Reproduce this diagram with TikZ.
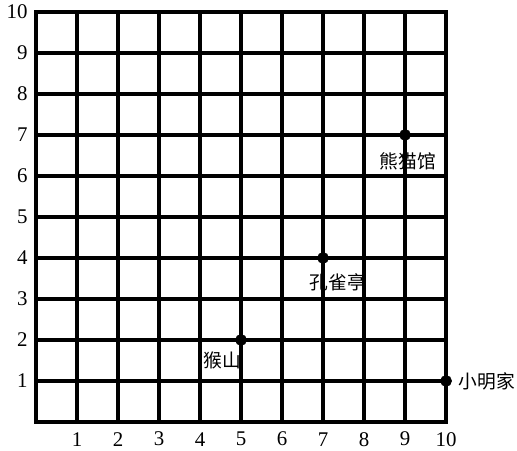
\documentclass[tikz,border=0pt]{standalone}
\usepackage{fontspec}
\setmainfont{Liberation Serif}
\newfontfamily\cjk{Noto Sans CJK SC}
\usetikzlibrary{positioning}
\newcommand{\placeptradius}{0.27cm}
\tikzset{placept/.style={circle, draw, fill=black, inner sep=0pt, minimum width=\placeptradius}}
\tikzset{placelbl/.style={font=\cjk\fontsize{13}{15}\selectfont, inner sep=1pt}}
\tikzset{axlbl/.style={font=\fontsize{14.5}{16}\selectfont, inner sep=0pt}}
\tikzset{gridln/.style={line width=2.3pt}}

\begin{document}
\begin{tikzpicture}
\useasboundingbox (-0.878,-0.707) rectangle (11.73,10.29);

\foreach \i in {1,...,9} {
  \draw[gridln] (\i,0) -- (\i,10);
  \draw[gridln] (0,\i) -- (10,\i);
}
\draw[gridln] (0,0) rectangle (10,10);

% axis numbers
\foreach \i in {1,...,10} {
  \node[axlbl] (x\i) at (\i,-0.42) {\i};
  \node[axlbl, anchor=east] (y\i) at (-0.2,\i) {\i};
}

\node[placept] (xiongmao) at (9,7) {};
\node[placelbl] (xiongmaolbl) at (9.07,6.35) {熊猫馆};

\node[placept] (kongque) at (7,4) {};
\node[placelbl] (kongquelbl) at (7.36,3.41) {孔雀亭};

\node[placept] (houshan) at (5,2) {};
\node[placelbl] (houshanlbl) at (4.55,1.51) {猴山};

\node[placept] (jia) at (10,1) {};
\node[placelbl, right=0.12 of jia] (jialbl) {小明家};
\end{tikzpicture}
\end{document}
